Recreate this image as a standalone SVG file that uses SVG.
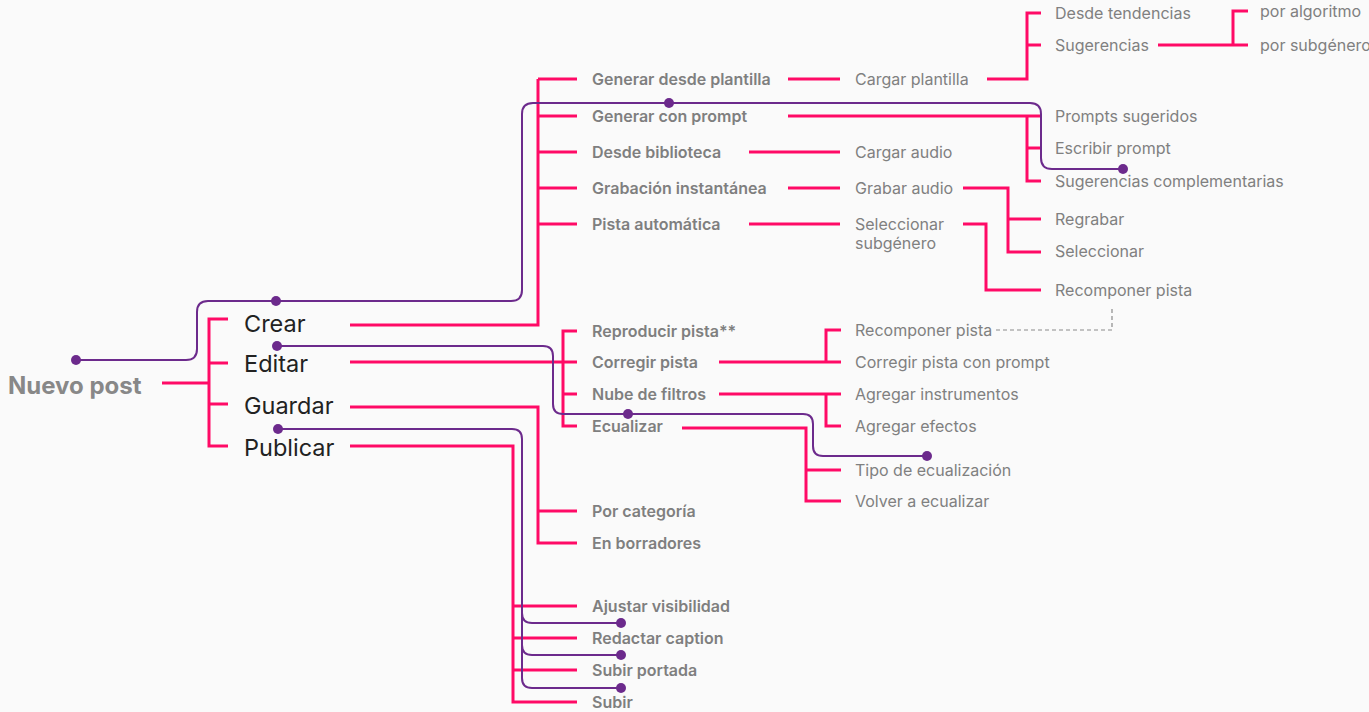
<svg xmlns="http://www.w3.org/2000/svg" width="1369" height="712" viewBox="0 0 1369 712">
  <style>
    .bg { fill: #fafafa; }
    .pk { fill: none; stroke: #ff0a66; stroke-width: 3; stroke-linejoin: miter; }
    .pu { fill: none; stroke: #6c2a8c; stroke-width: 2; }
    .dot { fill: #6c2a8c; }
    .dash { fill: none; stroke: #8a8a8a; stroke-width: 1.2; stroke-dasharray: 4 3; }
    text { font-family: Inter, "Noto Sans", "Liberation Sans", sans-serif; dominant-baseline: central; }
    .root { font-size: 24px; font-weight: 700; fill: #888888; }
    .l1 { font-size: 23.5px; font-weight: 400; fill: #222222; }
    .l2 { font-size: 16px; font-weight: 600; fill: #7f7f7f; }
    .l3 { font-size: 16px; font-weight: 400; fill: #808080; }
  </style>
  <rect class="bg" x="0" y="0" width="1369" height="712"/>

  <!-- branch connectors -->
  <g id="connectors">
    <!-- root to first level -->
    <path class="pk" d="M162,383 H209 M228,319 H209 V446 H228 M209,363 H228 M209,404 H228"/>
    <!-- Crear -->
    <path class="pk" d="M350,325 H538 V79 M538,79 H577 M538,116 H577 M538,152 H577 M538,188 H577 M538,224 H577"/>
    <path class="pk" d="M788,79 H840"/>
    <path class="pk" d="M987,79 H1027 V13 H1041 M1027,45 H1041"/>
    <path class="pk" d="M1158,45 H1248 M1233,45 V11 H1248"/>
    <path class="pk" d="M788,116 H1041 M1027,116 V181 H1041 M1027,148 H1041"/>
    <path class="pk" d="M749,152 H840"/>
    <path class="pk" d="M788,188 H840"/>
    <path class="pk" d="M963,188 H1008 V252 H1041 M1008,219 H1041"/>
    <path class="pk" d="M749,224 H840"/>
    <path class="pk" d="M963,224 H986 V290 H1041"/>
    <!-- Editar -->
    <path class="pk" d="M350,362 H577 M577,331 H563 V426 H577 M563,394 H577"/>
    <path class="pk" d="M719,362 H841 M826,362 V330 H841"/>
    <path class="pk" d="M719,394 H841 M826,394 V426 H841"/>
    <path class="pk" d="M682,428 H806 V501 H841 M806,470 H841"/>
    <!-- Guardar -->
    <path class="pk" d="M350,407 H538 V543 H577 M538,511 H577"/>
    <!-- Publicar -->
    <path class="pk" d="M350,446 H513 V702 H577 M513,606 H577 M513,638 H577 M513,670 H577"/>
    <!-- dashed link -->
    <path class="dash" d="M996,330 H1112 V308"/>

    <!-- purple flow paths -->
    <path class="pu" d="M76,360 H186 Q197,360 197,349 V312 Q197,301 208,301 H511 Q522,301 522,290 V114 Q522,103 533,103 H1030 Q1041,103 1041,114 V158 Q1041,169 1052,169 H1123"/>
    <path class="pu" d="M277,346 H543 Q553,346 553,356 V404 Q553,414 563,414 H803 Q813,414 813,424 V446 Q813,456 823,456 H927"/>
    <path class="pu" d="M278,429 H512 Q522,429 522,439 V613 Q522,623 532,623 H621 M522,613 V645 Q522,655 532,655 H621 M522,645 V678 Q522,688 532,688 H621"/>
    <circle class="dot" cx="76" cy="360" r="5"/>
    <circle class="dot" cx="276" cy="301" r="5"/>
    <circle class="dot" cx="669" cy="103" r="5"/>
    <circle class="dot" cx="1123" cy="169" r="5"/>
    <circle class="dot" cx="277" cy="346" r="5"/>
    <circle class="dot" cx="628" cy="414" r="5"/>
    <circle class="dot" cx="927" cy="456" r="5"/>
    <circle class="dot" cx="278" cy="429" r="5"/>
    <circle class="dot" cx="621" cy="623" r="5"/>
    <circle class="dot" cx="621" cy="655" r="5"/>
    <circle class="dot" cx="621" cy="688" r="5"/>
  </g>

  <g id="nuevo-post"><text class="root" x="8" y="385">Nuevo post</text></g>

  <g id="crear"><text class="l1" x="244" y="323">Crear</text></g>
  <g id="editar"><text class="l1" x="244" y="363">Editar</text></g>
  <g id="guardar"><text class="l1" x="244" y="405">Guardar</text></g>
  <g id="publicar"><text class="l1" x="244" y="447">Publicar</text></g>

  <g id="generar-plantilla"><text class="l2" x="592" y="79">Generar desde plantilla</text></g>
  <g id="generar-prompt"><text class="l2" x="592" y="116">Generar con prompt</text></g>
  <g id="desde-biblioteca"><text class="l2" x="592" y="152">Desde biblioteca</text></g>
  <g id="grabacion"><text class="l2" x="592" y="188">Grabación instantánea</text></g>
  <g id="pista-automatica"><text class="l2" x="592" y="224">Pista automática</text></g>

  <g id="cargar-plantilla"><text class="l3" x="855" y="79">Cargar plantilla</text></g>
  <g id="desde-tendencias"><text class="l3" x="1055" y="13">Desde tendencias</text></g>
  <g id="sugerencias"><text class="l3" x="1055" y="45">Sugerencias</text></g>
  <g id="por-algoritmo"><text class="l3" x="1260" y="11">por algoritmo</text></g>
  <g id="por-subgenero"><text class="l3" x="1260" y="45">por subgénero</text></g>
  <g id="prompts-sugeridos"><text class="l3" x="1055" y="116">Prompts sugeridos</text></g>
  <g id="escribir-prompt"><text class="l3" x="1055" y="148">Escribir prompt</text></g>
  <g id="sugerencias-comp"><text class="l3" x="1055" y="181">Sugerencias complementarias</text></g>
  <g id="cargar-audio"><text class="l3" x="855" y="152">Cargar audio</text></g>
  <g id="grabar-audio"><text class="l3" x="855" y="188">Grabar audio</text></g>
  <g id="regrabar"><text class="l3" x="1055" y="219">Regrabar</text></g>
  <g id="seleccionar"><text class="l3" x="1055" y="251">Seleccionar</text></g>
  <g id="seleccionar-subgenero"><text class="l3" x="855" y="224">Seleccionar</text><text class="l3" x="855" y="243">subgénero</text></g>
  <g id="recomponer-1"><text class="l3" x="1055" y="290">Recomponer pista</text></g>

  <g id="reproducir"><text class="l2" x="592" y="331">Reproducir pista**</text></g>
  <g id="corregir"><text class="l2" x="592" y="362">Corregir pista</text></g>
  <g id="nube"><text class="l2" x="592" y="394">Nube de filtros</text></g>
  <g id="ecualizar"><text class="l2" x="592" y="426">Ecualizar</text></g>

  <g id="recomponer-2"><text class="l3" x="855" y="330">Recomponer pista</text></g>
  <g id="corregir-prompt"><text class="l3" x="855" y="362">Corregir pista con prompt</text></g>
  <g id="instrumentos"><text class="l3" x="855" y="394">Agregar instrumentos</text></g>
  <g id="efectos"><text class="l3" x="855" y="426">Agregar efectos</text></g>
  <g id="tipo-ecualizacion"><text class="l3" x="855" y="470">Tipo de ecualización</text></g>
  <g id="volver-ecualizar"><text class="l3" x="855" y="501">Volver a ecualizar</text></g>

  <g id="por-categoria"><text class="l2" x="592" y="511">Por categoría</text></g>
  <g id="borradores"><text class="l2" x="592" y="543">En borradores</text></g>

  <g id="visibilidad"><text class="l2" x="592" y="606">Ajustar visibilidad</text></g>
  <g id="caption"><text class="l2" x="592" y="638">Redactar caption</text></g>
  <g id="portada"><text class="l2" x="592" y="670">Subir portada</text></g>
  <g id="subir"><text class="l2" x="592" y="702">Subir</text></g>
</svg>
